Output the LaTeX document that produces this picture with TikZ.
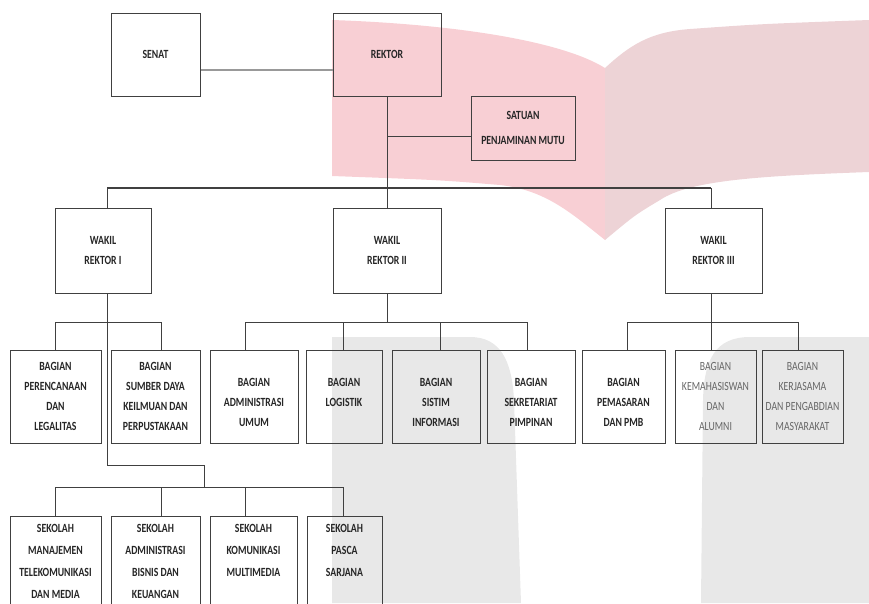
\documentclass[tikz,border=0pt]{standalone}
\usepackage{fontspec}
\setmainfont{Carlito}[FakeStretch=0.78]
\definecolor{pinkL}{RGB}{248,207,212}
\definecolor{pinkR}{RGB}{237,211,214}
\definecolor{wmgrey}{RGB}{232,232,232}
\begin{document}
\begin{tikzpicture}[x=1pt,y=-1pt,
  box/.style={draw=black!75, line width=1pt, inner sep=0pt, align=center,
    font=\fontsize{12.5}{20}\selectfont\bfseries, text=black!85},
  sz/.style 2 args={minimum width=#1pt, minimum height=#2pt},
  faint/.style={text=black!60, font=\fontsize{12.5}{20}\selectfont},
  wire/.style={draw=black!75, line width=0.9pt},
]
\useasboundingbox (0,0) rectangle (869,603);
% watermark
\fill[pinkL] (332,20) .. controls (450,24) and (560,40) .. (605,68) -- (605,240)
  .. controls (570,212) and (545,190) .. (500,185) .. controls (440,180) .. (332,176) -- cycle;
\fill[pinkR] (605,68) .. controls (630,45) and (650,32) .. (690,29) .. controls (760,24) .. (869,20)
  -- (869,172) .. controls (760,176) and (690,180) .. (660,200) .. controls (635,215) .. (605,240) -- cycle;
\fill[wmgrey] (332,337) -- (470,337) .. controls (500,337) and (512,360) .. (514,400) -- (521,603) -- (332,603) -- cycle;
\fill[wmgrey] (701,603) -- (703,400) .. controls (704,360) and (715,337) .. (750,337) -- (869,337) -- (869,603) -- cycle;

% top level
\node[box, sz={89}{83}] (senat) at (155.5,54.5) {SENAT};
\node[box, sz={108}{83}] (rektor) at (387,54.5) {REKTOR};
\node[box, sz={104}{64}, font=\fontsize{12.5}{25}\selectfont\bfseries] (spm) at (523,128) {SATUAN\\PENJAMINAN MUTU};

% wakil rektor
\node[box, sz={96}{85}] (wr1) at (103,250.5) {WAKIL\\REKTOR I};
\node[box, sz={108}{85}] (wr2) at (387,250.5) {WAKIL\\REKTOR II};
\node[box, sz={97}{85}] (wr3) at (713.5,250.5) {WAKIL\\REKTOR III};

% bagian
\node[box, sz={91}{93}] (p1) at (55.5,396.5) {BAGIAN\\PERENCANAAN\\DAN\\LEGALITAS};
\node[box, sz={89}{93}] (p2) at (155.5,396.5) {BAGIAN\\SUMBER DAYA\\KEILMUAN DAN\\PERPUSTAKAAN};
\node[box, sz={88}{93}] (adm) at (254,396.5) {~\\BAGIAN\\ADMINISTRASI\\UMUM};
\node[box, sz={76}{93}] (log) at (344,396.5) {~\\BAGIAN\\LOGISTIK\\~};
\node[box, sz={88}{93}] (sis) at (436,396.5) {~\\BAGIAN\\SISTIM\\INFORMASI};
\node[box, sz={88}{93}] (sek) at (531,396.5) {~\\BAGIAN\\SEKRETARIAT\\PIMPINAN};
\node[box, sz={83}{93}] (pem) at (623.5,396.5) {~\\BAGIAN\\PEMASARAN\\DAN PMB};
\node[box, sz={81}{93}, faint] (kem) at (715.5,396.5) {BAGIAN\\KEMAHASISWAN\\DAN\\ALUMNI};
\node[box, sz={81}{93}, faint] (ker) at (802.5,396.5) {BAGIAN\\KERJASAMA\\DAN PENGABDIAN\\MASYARAKAT};

% sekolah
\node[box, sz={91}{91}, font=\fontsize{12.5}{22}\selectfont\bfseries] (s1) at (55.5,561.5) {SEKOLAH\\MANAJEMEN\\TELEKOMUNIKASI\\DAN MEDIA};
\node[box, sz={89}{91}, font=\fontsize{12.5}{22}\selectfont\bfseries] (s2) at (155.5,561.5) {SEKOLAH\\ADMINISTRASI\\BISNIS DAN\\KEUANGAN};
\node[box, sz={87}{91}, font=\fontsize{12.5}{22}\selectfont\bfseries] (s3) at (253.5,561.5) {SEKOLAH\\KOMUNIKASI\\MULTIMEDIA\\~};
\node[box, sz={75}{91}, font=\fontsize{12.5}{22}\selectfont\bfseries] (s4) at (344.5,561.5) {SEKOLAH\\PASCA\\SARJANA\\~};

% coordinates of bus lines
\coordinate (sr) at (0,70);
\coordinate (q) at (0,136);
\coordinate (bL) at (107,188);
\coordinate (bR) at (711,188);
\coordinate (a1) at (55,322);
\coordinate (a2) at (161,322);
\coordinate (c1) at (245,322);
\coordinate (c2) at (343,322);
\coordinate (c3) at (440,322);
\coordinate (c4) at (527,322);
\coordinate (d1) at (627,322);
\coordinate (d2) at (711,322);
\coordinate (d3) at (798,322);
\coordinate (k1) at (107,465);
\coordinate (k2) at (204,465);
\coordinate (k3) at (204,487);
\coordinate (e1) at (55,487);
\coordinate (e2) at (161,487);
\coordinate (e3) at (245,487);
\coordinate (e4) at (343,487);

% connectors
\draw[wire, draw=black!40, line width=1.8pt] (senat.east |- sr) -- (rektor.west |- sr);
\draw[wire] (rektor.south) -- (wr2.north);
\draw[wire] (rektor.south |- q) -- (spm.west |- q);
\draw[wire, line width=1.2pt] (bL) -- (bR);
\draw[wire] (bL) -- (bL |- wr1.north);
\draw[wire] (bR) -- (bR |- wr3.north);
% WR1
\draw[wire] (k1 |- wr1.south) -- (k1) -- (k2) -- (k3);
\draw[wire] (a1) -- (a2);
\draw[wire] (a1) -- (a1 |- p1.north);
\draw[wire] (a2) -- (a2 |- p2.north);
% WR2
\draw[wire] (wr2.south) -- (wr2.south |- c1);
\draw[wire] (c1) -- (c4);
\draw[wire] (c1) -- (c1 |- adm.north);
\draw[wire] (c2) -- (c2 |- log.north);
\draw[wire] (c3) -- (c3 |- sis.north);
\draw[wire] (c4) -- (c4 |- sek.north);
% WR3
\draw[wire] (d2 |- wr3.south) -- (d2);
\draw[wire] (d1) -- (d3);
\draw[wire] (d1) -- (d1 |- pem.north);
\draw[wire] (d2) -- (d2 |- kem.north);
\draw[wire] (d3) -- (d3 |- ker.north);
% sekolah
\draw[wire] (e1) -- (e4);
\draw[wire] (e1) -- (e1 |- s1.north);
\draw[wire] (e2) -- (e2 |- s2.north);
\draw[wire] (e3) -- (e3 |- s3.north);
\draw[wire] (e4) -- (e4 |- s4.north);
\end{tikzpicture}
\end{document}
